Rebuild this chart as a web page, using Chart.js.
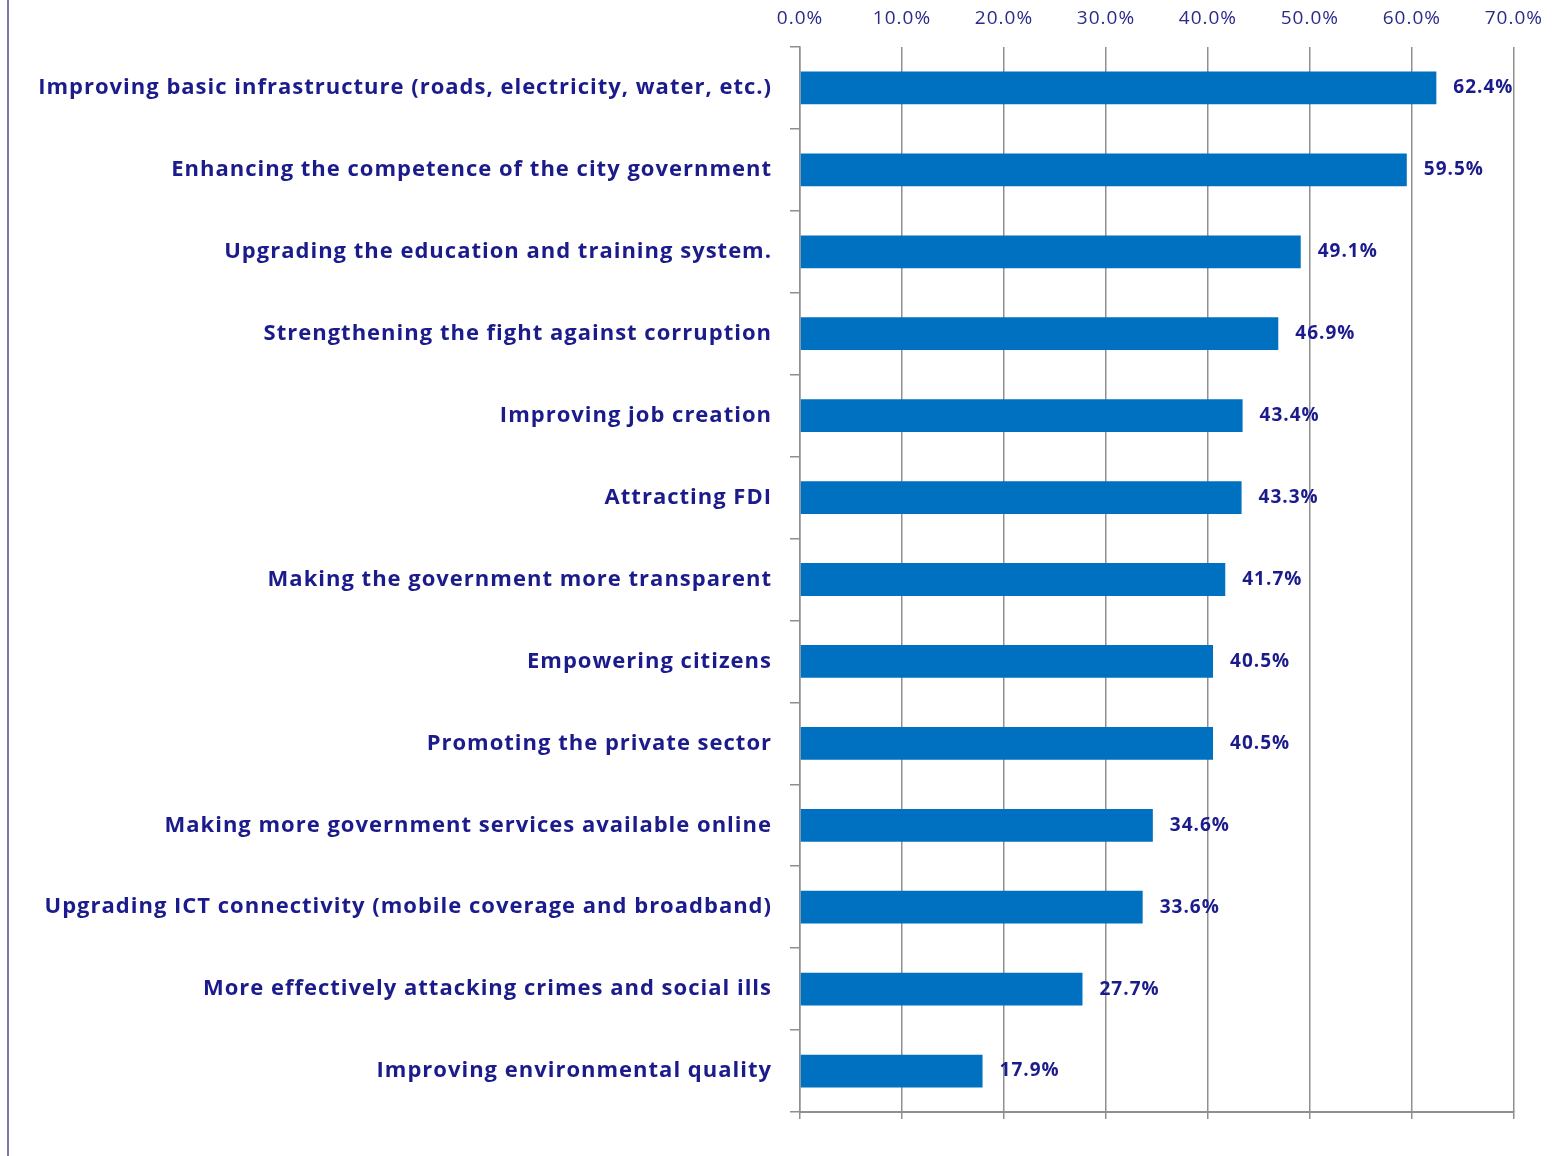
<!DOCTYPE html>
<html>
<head>
<meta charset="utf-8">
<script src="https://cdn.jsdelivr.net/npm/chart.js@4"></script>
<style>
    body { margin: 0; background: #ffffff; }
    #holder { position: relative; width: 1554px; height: 1156px; }
    #leftLine { position: absolute; left: 7px; top: 0; width: 2px; height: 1156px; background: #7b79a6; }
</style>
</head>
<body>
<div id="holder">
    <canvas id="myChart" width="1554" height="1156"></canvas>
    <div id="leftLine"></div>
</div>
<script>
const LABELS = [
    'Improving basic infrastructure (roads, electricity, water, etc.)',
    'Enhancing the competence of the city government',
    'Upgrading the education and training system.',
    'Strengthening the fight against corruption',
    'Improving job creation',
    'Attracting FDI',
    'Making the government more transparent',
    'Empowering citizens',
    'Promoting the private sector',
    'Making more government services available online',
    'Upgrading ICT connectivity (mobile coverage and broadband)',
    'More effectively attacking crimes and social ills',
    'Improving environmental quality'
];

const VALUES = [62.4, 59.5, 49.1, 46.9, 43.4, 43.3, 41.7, 40.5, 40.5, 34.6, 33.6, 27.7, 17.9];

const TICK_MIN = 0
const TICK_MAX = 70
const TICK_STEP = 10

let navy = '#1b1b8c'
let gridGray = '#8f8f8f'
let fontName = "'Open Sans'"

// the original text is spaced out a bit, so widen every letter on the canvas
// (resizing the canvas wipes the context state, so set it again before layout and draw)
function widenLetters(chart) {
    chart.ctx.letterSpacing = '1px'
}

let spacing = {
    id: 'spacing',
    beforeUpdate: widenLetters,
    beforeLayout: widenLetters,
    beforeDraw: widenLetters
}

// draws the "62.4%" values after each bar
let valueLabels = {
    id: 'valueLabels',
    afterDatasetsDraw(chart) {
        let ctx = chart.ctx
        let meta = chart.getDatasetMeta(0)
        ctx.save()
        ctx.font = 'bold 19px ' + fontName
        ctx.fillStyle = navy
        ctx.textAlign = 'left'
        ctx.textBaseline = 'middle'
        meta.data.forEach((bar, i) => {
            ctx.fillText(VALUES[i].toFixed(1) + '%', bar.x + 17, bar.y)
        })
        ctx.restore()
    }
}

let data = {
    labels: LABELS,
    datasets: [{
        data: VALUES,
        backgroundColor: '#0070c0',
        borderWidth: 0,
        barPercentage: 0.5,
        categoryPercentage: 0.8
    }]
}

let config = {
    type: 'bar',
    data: data,
    plugins: [spacing, valueLabels],
    options: {
        indexAxis: 'y',
        responsive: false,
        animation: false,
        layout: { padding: { left: 0, right: 0, top: 0, bottom: 0 } },
        plugins: {
            legend: { display: false },
            tooltip: { enabled: false }
        },
        scales: {
            x: {
                position: 'top',
                min: TICK_MIN,
                max: TICK_MAX,
                afterFit: s => { s.height = 47 },
                border: { display: false },
                // invisible tick marks, only there to push the labels up
                grid: { color: gridGray, lineWidth: 1.5, drawTicks: true, tickLength: 6, tickColor: 'rgba(0,0,0,0)' },
                ticks: {
                    stepSize: TICK_STEP,
                    padding: 11,
                    color: '#2a2a8a',
                    font: { family: fontName, size: 19 },
                    callback: v => v.toFixed(1) + '%'
                }
            },
            x2: {
                position: 'bottom',
                axis: 'x',
                min: TICK_MIN,
                max: TICK_MAX,
                afterFit: s => { s.height = 44 },
                border: { display: true, color: gridGray, width: 2 },
                grid: { drawOnChartArea: false, color: gridGray, lineWidth: 1.5, tickLength: 7 },
                ticks: { stepSize: TICK_STEP, display: false }
            },
            y: {
                afterFit: s => { s.width = 800 },
                border: { display: true, color: gridGray, width: 1.5 },
                grid: { drawOnChartArea: false, color: gridGray, lineWidth: 1.5, tickLength: 10 },
                ticks: {
                    padding: 18,
                    color: navy,
                    font: { family: fontName, size: 22, weight: 'bold' }
                }
            }
        }
    }
}

let myChart = new Chart(document.getElementById('myChart'), config)
</script>
</body>
</html>
